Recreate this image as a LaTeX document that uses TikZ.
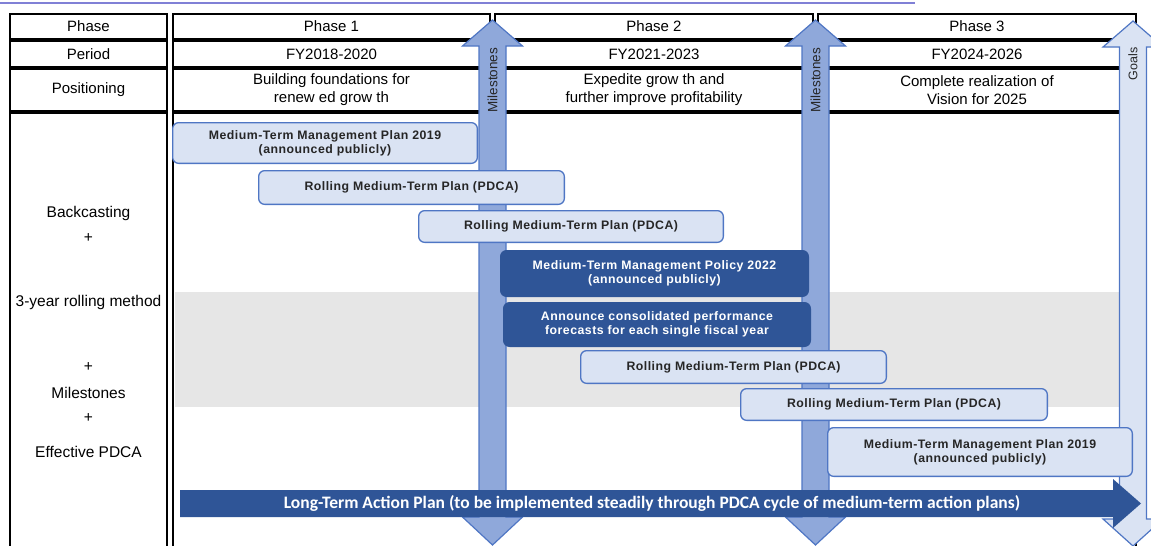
\documentclass[tikz,border=0pt]{standalone}
\usepackage{fontspec}
\setmainfont{Liberation Sans}
\newfontfamily\boxfont[LetterSpace=4]{Liberation Sans}
\newfontfamily\arrowfont{Carlito}
\definecolor{lightfill}{RGB}{218,227,243}
\definecolor{boxborder}{RGB}{79,118,196}
\definecolor{darkfill}{RGB}{47,85,151}
\definecolor{msfill}{RGB}{143,168,218}
\definecolor{graybg}{RGB}{230,230,230}
\definecolor{boxtext}{RGB}{38,38,38}
\definecolor{topline}{RGB}{128,128,214}
\tikzset{
  cell/.style={draw=black, line width=2pt, inner sep=0pt, align=center, font=\fontsize{15}{18}\selectfont},
  lbox/.style={draw=boxborder, fill=lightfill, line width=1.3pt, rounded corners=6pt, inner sep=0pt, align=center, text=boxtext, font=\boxfont\bfseries\fontsize{12.3}{14}\selectfont},
  dbox/.style={lbox, fill=darkfill, draw=darkfill, text=white},
  msarrow/.style={draw=boxborder, fill=msfill, line width=1.2pt, line join=miter},
  goalarrow/.style={msarrow, fill=lightfill},
  lbl/.style={font=\fontsize{15.5}{18}\selectfont},
  vlbl/.style={rotate=90, font=\fontsize{13.5}{15}\selectfont, text=boxtext},
}
\begin{document}
\begin{tikzpicture}[x=1pt,y=-1pt]
\useasboundingbox (0,0) rectangle (1151,546);
\clip (0,0) rectangle (1151,546);
% top line
\coordinate (tl1) at (0,2.5);
\coordinate (tl2) at (915,2.5);
\draw[topline, line width=2pt] (tl1) -- (tl2);
% left column
\node[cell, minimum width=157pt, minimum height=24.5pt] (hphase) at (88.5,26.5) {Phase};
\node[cell, minimum width=157pt, minimum height=25.5pt] (hperiod) at (88.5,54) {Period};
\node[cell, minimum width=157pt, minimum height=41.5pt] (hpos) at (88.5,90) {Positioning};
\node[cell, minimum width=157pt, minimum height=487pt] (lbody) at (88.5,356.5) {};
% phase 1
\node[cell, minimum width=317pt, minimum height=24.5pt] (p1) at (331.5,26.5) {Phase 1};
\node[cell, minimum width=317pt, minimum height=25.5pt] (p1per) at (331.5,54) {FY2018-2020};
\node[cell, minimum width=317pt, minimum height=41.5pt] (p1pos) at (331.5,90) {Building foundations for\\renew ed grow th};
% phase 2
\node[cell, minimum width=318pt, minimum height=24.5pt] (p2) at (654,26.5) {Phase 2};
\node[cell, minimum width=318pt, minimum height=25.5pt] (p2per) at (654,54) {FY2021-2023};
\node[cell, minimum width=318pt, minimum height=41.5pt] (p2pos) at (654,90) {Expedite grow th and\\further improve profitability};
% phase 3
\node[cell, minimum width=318pt, minimum height=24.5pt] (p3) at (977,26.5) {Phase 3};
\node[cell, minimum width=318pt, minimum height=25.5pt] (p3per) at (977,54) {FY2024-2026};
\node[cell, minimum width=318pt, minimum height=41.5pt] (p3pos) at (977,90) {Complete realization of\\Vision for 2025};
% body
\node[cell, minimum width=963pt, minimum height=487pt] (pbody) at (654.5,356.5) {};
\fill[graybg] (174.5,292) rectangle (1120,407);
% left column texts
\node[lbl] (bc) at (88.5,213) {Backcasting};
\node[lbl] (plus1) at (88.5,238) {+};
\node[lbl] (roll) at (88.5,302) {3-year rolling method};
\node[lbl] (plus2) at (88.5,367) {+};
\node[lbl] (ms) at (88.5,393) {Milestones};
\node[lbl] (plus3) at (88.5,418) {+};
\node[lbl] (pdca) at (88.5,452) {Effective PDCA};
% milestone arrows
\draw[msarrow] (492.5,20) -- (522.5,46) -- (506,46) -- (506,517) -- (522.5,517) -- (492.5,545) -- (462.5,517) -- (479,517) -- (479,46) -- (462.5,46) -- cycle;
\draw[msarrow] (815.5,20) -- (845.5,46) -- (829,46) -- (829,517) -- (845.5,517) -- (815.5,545) -- (785.5,517) -- (802,517) -- (802,46) -- (785.5,46) -- cycle;
\draw[goalarrow] (1133,21) -- (1163,47) -- (1146.5,47) -- (1146.5,519) -- (1163,519) -- (1133,546) -- (1103,519) -- (1119.5,519) -- (1119.5,47) -- (1103,47) -- cycle;
\node[vlbl] (ms1) at (492.5,80) {Milestones};
\node[vlbl] (ms2) at (815.5,80) {Milestones};
\node[vlbl, font=\fontsize{12.5}{14}\selectfont] (goals) at (1133,64) {Goals};
% plan boxes
\node[lbox, minimum width=304.7pt, minimum height=40.7pt] (bA) at (325,143) {Medium-Term Management Plan 2019\\(announced publicly)};
\node[lbox, minimum width=305.7pt, minimum height=33.7pt] (bB) at (411.5,187.5) {Rolling Medium-Term Plan (PDCA)};
\node[lbox, minimum width=304.7pt, minimum height=31.7pt] (bC) at (571,226.5) {Rolling Medium-Term Plan (PDCA)};
\node[dbox, minimum width=307.7pt, minimum height=45.7pt] (bD) at (654.5,273.5) {Medium-Term Management Policy 2022\\(announced publicly)};
\node[dbox, minimum width=306.7pt, minimum height=43.7pt] (bE) at (657,324.5) {Announce consolidated performance\\forecasts for each single fiscal year};
\node[lbox, minimum width=305.7pt, minimum height=32.7pt] (bF) at (733.5,367) {Rolling Medium-Term Plan (PDCA)};
\node[lbox, minimum width=306.7pt, minimum height=31.7pt] (bG) at (894,404.5) {Rolling Medium-Term Plan (PDCA)};
\node[lbox, minimum width=304.7pt, minimum height=48.7pt] (bH) at (980,452) {Medium-Term Management Plan 2019\\(announced publicly)};
% long-term arrow
\fill[darkfill] (180,490) -- (1113,490) -- (1113,479) -- (1141,503.5) -- (1113,528) -- (1113,517) -- (180,517) -- cycle;
\node[font=\arrowfont\bfseries\fontsize{17.5}{20}\selectfont, text=white] (ltap) at (652,503.5) {Long-Term Action Plan (to be implemented steadily through PDCA cycle of medium-term action plans)};
\end{tikzpicture}
\end{document}
